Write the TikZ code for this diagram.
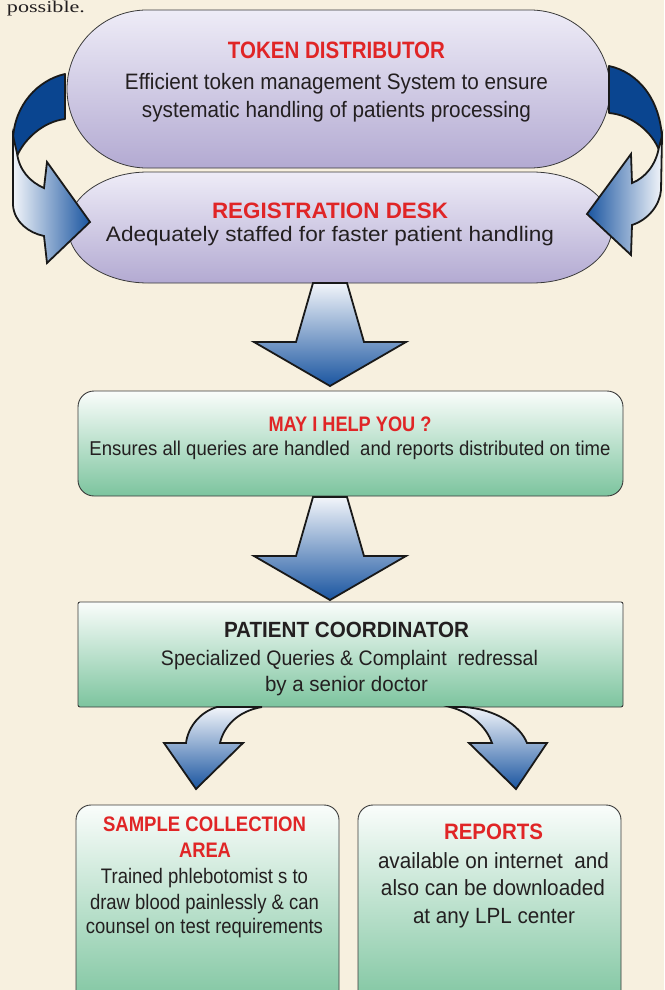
\documentclass[tikz,border=0pt]{standalone}
\usepackage{fontspec}
\setmainfont{Liberation Sans}
\newfontfamily\serifont{Liberation Serif}
\usepackage{graphicx}
\definecolor{bgcream}{HTML}{F7F0DF}
\definecolor{pilltop}{HTML}{EEECF7}
\definecolor{pillbot}{HTML}{B3AAD2}
\definecolor{pilledge}{HTML}{3A3A3A}
\definecolor{greentop}{HTML}{FAFDFB}
\definecolor{greenbot}{HTML}{7CC49E}
\definecolor{boxedge}{HTML}{3A3A3A}
\definecolor{arrtop}{HTML}{F2F5FA}
\definecolor{arrbot}{HTML}{1A55A0}
\definecolor{bandblue}{HTML}{0A4590}
\definecolor{redtxt}{HTML}{E02526}
\definecolor{darktxt}{HTML}{231F20}
\newcommand\fitline[3]{\resizebox{#1pt}{\height}{\fontsize{#2pt}{#2pt}\selectfont #3}}
\tikzset{
  pill/.style={draw=pilledge, line width=0.8pt, top color=pilltop, bottom color=pillbot},
  gbox/.style={draw=boxedge, line width=0.9pt, top color=greentop, bottom color=greenbot},
  barrow/.style={draw=black!90, line width=1.8pt, line join=miter, top color=arrtop, bottom color=arrbot},
  darkband/.style={draw=black!90, line width=1.8pt, fill=bandblue, line join=round},
  lightband/.style={draw=black!90, line width=1.8pt, line join=miter},
  txt/.style={anchor=base, inner sep=0pt, outer sep=0pt, text=darktxt},
  ttl/.style={txt, text=redtxt},
}
\begin{document}
\begin{tikzpicture}[x=1pt, y=-1pt]
\useasboundingbox (0,0) rectangle (664,990);
\fill[bgcream] (0,0) rectangle (664,990);
\clip (0,0) rectangle (664,990);

% leading text
\node[txt, anchor=base west] (poss) at (7,12.5) {\fitline{78}{16.5}{\serifont possible.}};

% token distributor pill
\path[pill] (147,10) -- (530,10) .. controls (574.2,10) and (610,45.4) .. (610,89)
  .. controls (610,132.6) and (574.2,168) .. (530,168) -- (147,168)
  .. controls (102.8,168) and (67,132.6) .. (67,89)
  .. controls (67,45.4) and (102.8,10) .. (147,10) -- cycle;

% registration pill
\path[pill] (148,172) -- (532,172) .. controls (576.2,172) and (612,196.85) .. (612,227.5)
  .. controls (612,258.15) and (576.2,283) .. (532,283) -- (148,283)
  .. controls (103.8,283) and (68,258.15) .. (68,227.5)
  .. controls (68,196.85) and (103.8,172) .. (148,172) -- cycle;

% left loop arrow
\path[darkband] (65,74) .. controls (38,80) and (14,105) .. (13,140) -- (17,156)
  .. controls (24,140) and (42,122) .. (65,119) -- cycle;
\path[lightband, left color=arrtop, right color=arrbot]
  (13,136) -- (13,205) .. controls (14,222) and (29,233) .. (44,236) -- (47,263) -- (90,222)
  -- (47,162) -- (44,188) .. controls (30,182) and (19,170) .. (17,153) -- cycle;

% right loop arrow
\path[darkband] (609,66) .. controls (638,72) and (661,100) .. (662,140) -- (659,150)
  .. controls (652,132) and (632,115) .. (609,113) -- cycle;
\path[lightband, left color=arrbot, right color=arrtop]
  (662,136) -- (661,190) .. controls (660,205) and (648,220) .. (632,225) -- (631,255) -- (587,214)
  -- (631,154) -- (632,183) .. controls (645,178) and (656,165) .. (659,147) -- cycle;

% green boxes
\path[gbox, rounded corners=16pt] (78,391) rectangle (623,496);
\path[gbox, rounded corners=2pt] (78,602) rectangle (623,707);
\path[gbox, rounded corners=15pt] (76,805) rectangle (339,1010);
\path[gbox, rounded corners=15pt] (358,805) rectangle (621,1010);

% straight arrows
\path[barrow] (313,283) -- (347,283) -- (364,342) -- (406,342) -- (330,386) -- (254,342) -- (296,342) -- cycle;
\path[barrow] (313,497) -- (347,497) -- (364,556) -- (406,556) -- (330,600) -- (254,556) -- (296,556) -- cycle;

% curved arrows below coordinator
\path[barrow] (262,707) -- (217,707) .. controls (200,712) and (188,727) .. (186,743) -- (164,743)
  -- (196,789) -- (243,743) -- (220,743) .. controls (224,726) and (238,711) .. (262,707) -- cycle;
\path[barrow] (450,707) -- (464,707) .. controls (495,709) and (520,725) .. (527,743) -- (547,743)
  -- (516,789) -- (469,743) -- (492,743) .. controls (486,726) and (470,712) .. (450,707) -- cycle;

% texts
\node[ttl] (tokT) at (336.5,59) {\fitline{217}{23.7}{\bfseries TOKEN DISTRIBUTOR}};
\node[txt] (tokA) at (336.5,89) {\fitline{423}{22.3}{Efficient token management System to ensure}};
\node[txt] (tokB) at (336.5,117) {\fitline{389}{22.3}{systematic handling of patients processing}};

\node[ttl] (regT) at (330,218) {\fitline{236}{22.3}{\bfseries REGISTRATION DESK}};
\node[txt] (regA) at (330,241) {\fitline{448}{21}{Adequately staffed for faster patient handling}};

\node[ttl] (mayT) at (350,431) {\fitline{163}{21}{\bfseries MAY I HELP YOU ?}};
\node[txt] (mayA) at (350,455) {\fitline{521}{20}{Ensures all queries are handled\ \ and reports distributed on time}};

\node[txt] (patT) at (346.5,637) {\fitline{245}{22}{\bfseries PATIENT COORDINATOR}};
\node[txt] (patA) at (349.5,665) {\fitline{377}{21}{Specialized Queries \& Complaint\ \ redressal}};
\node[txt] (patB) at (346.5,691) {\fitline{163}{21}{by a senior doctor}};

\node[ttl] (samT) at (204.5,831) {\fitline{203}{21}{\bfseries SAMPLE COLLECTION}};
\node[ttl] (samU) at (205,857) {\fitline{52}{21}{\bfseries AREA}};
\node[txt] (samA) at (204.5,883) {\fitline{207}{21}{Trained phlebotomist s to}};
\node[txt] (samB) at (204.5,909) {\fitline{229}{21}{draw blood painlessly \& can}};
\node[txt] (samC) at (204.5,933) {\fitline{237}{21}{counsel on test requirements}};

\node[ttl] (repT) at (493.5,839) {\fitline{99}{22.3}{\bfseries REPORTS}};
\node[txt] (repA) at (493.5,868) {\fitline{231}{22}{available on internet\ \ and}};
\node[txt] (repB) at (493,895) {\fitline{224}{22}{also can be downloaded}};
\node[txt] (repC) at (494,923) {\fitline{162}{22}{at any LPL center}};
\end{tikzpicture}
\end{document}
